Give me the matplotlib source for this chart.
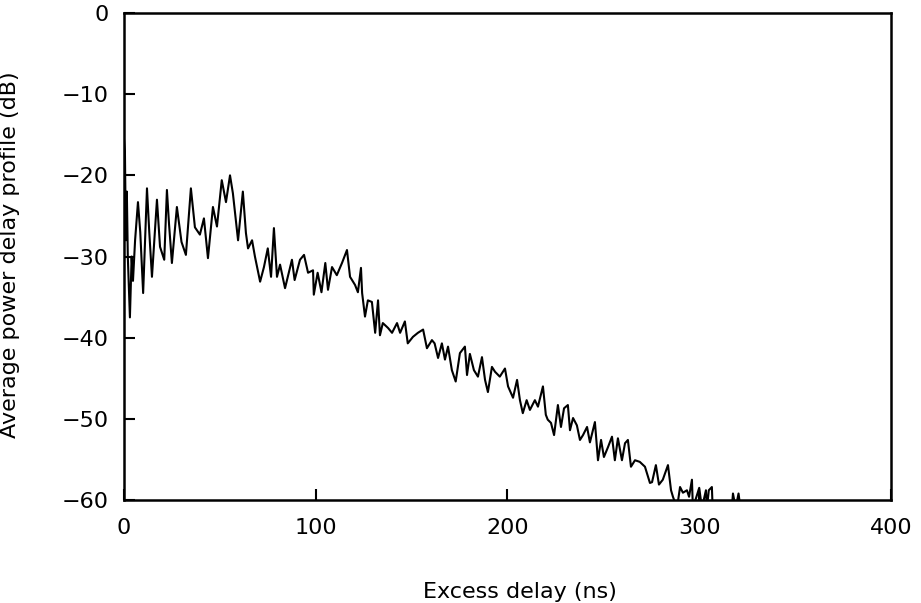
import numpy as np
import matplotlib.pyplot as plt

# excess delay (ns) and average power (dB)
delay = [0.0, 0.5, 1.0, 1.5, 2.0, 3.1, 4.0, 4.7, 5.8, 7.3, 8.5, 10.0, 12.0, 13.2, 14.6,
         17.2, 18.8, 21.0, 22.4, 23.5, 25.0, 27.6, 30.0, 32.3, 34.9, 37.0, 39.6, 41.7,
         43.8, 46.4, 48.5, 51.0, 53.2, 55.3, 56.8, 59.5, 62.0, 63.6, 64.7, 66.8, 68.3,
         71.0, 73.0, 75.0, 76.7, 78.2, 79.8, 81.4, 84.0, 87.6, 89.0, 91.8, 93.9, 96.0,
         98.6, 99.0, 101.0, 103.0, 105.0, 106.4, 108.5, 111.0, 113.7, 116.3, 117.9,
         120.5, 122.0, 123.6, 124.2, 125.7, 127.2, 129.3, 131.0, 132.5, 133.5, 135.0,
         137.7, 139.8, 142.4, 144.0, 146.5, 148.0, 150.7, 153.3, 156.0, 158.0, 160.6,
         162.0, 163.8, 165.8, 167.4, 169.0, 171.0, 173.0, 175.2, 177.8, 178.9, 180.4,
         182.5, 184.6, 186.7, 188.3, 189.8, 191.9, 193.5, 196.0, 198.7, 200.3, 202.9,
         205.0, 206.5, 208.0, 210.0, 211.7, 214.3, 215.9, 218.5, 220.0, 221.0, 222.7,
         224.3, 226.3, 227.9, 229.5, 231.5, 232.6, 234.2, 236.2, 237.8, 239.4, 241.5,
         243.0, 245.6, 247.2, 248.8, 250.3, 252.4, 254.5, 256.0, 257.6, 259.7, 261.3,
         262.8, 264.4, 266.5, 269.0, 271.7, 274.3, 275.4, 277.4, 279.0, 281.0, 283.7,
         285.3, 286.3, 288.4, 290.0, 291.5, 293.6, 294.7, 296.2, 296.7, 298.8, 300.0,
         301.4, 303.5, 304.0, 305.0, 306.6, 307.0, 310.0, 314.0, 317.0, 317.6, 319.0,
         320.5, 321.5]
power = [-15.5, -17.0, -28.0, -22.0, -30.0, -37.5, -30.0, -33.0, -28.0, -23.3, -27.0,
         -34.5, -21.6, -27.0, -32.5, -23.0, -28.8, -30.4, -21.8, -26.0, -30.8, -23.9,
         -28.2, -29.8, -21.6, -26.4, -27.3, -25.3, -30.2, -23.9, -26.3, -20.6, -23.3,
         -20.0, -22.2, -28.0, -22.0, -27.1, -29.0, -28.0, -30.0, -33.1, -31.3, -29.0,
         -32.5, -26.5, -32.5, -31.0, -33.9, -30.4, -32.9, -30.4, -29.8, -32.0, -31.7,
         -34.7, -32.0, -34.4, -30.8, -34.1, -31.3, -32.3, -30.8, -29.2, -32.5, -33.5,
         -34.4, -31.4, -34.5, -37.4, -35.4, -35.6, -39.4, -35.4, -39.7, -38.2, -38.8,
         -39.4, -38.2, -39.4, -38.0, -40.7, -39.9, -39.4, -39.0, -41.3, -40.3, -40.7,
         -42.5, -40.7, -42.7, -41.1, -44.0, -45.4, -41.9, -41.1, -44.6, -42.0, -44.0,
         -44.8, -42.4, -45.2, -46.7, -43.6, -44.2, -44.8, -43.8, -46.0, -47.4, -45.2,
         -47.7, -49.3, -47.7, -48.9, -47.7, -48.5, -46.0, -49.5, -50.1, -50.5, -52.0,
         -48.3, -51.0, -48.7, -48.3, -51.4, -49.9, -50.8, -52.6, -52.0, -51.0, -52.9,
         -50.4, -55.1, -52.6, -54.7, -53.5, -52.2, -55.1, -52.4, -55.1, -53.0, -52.6,
         -55.9, -55.1, -55.3, -55.9, -57.9, -57.8, -55.7, -58.1, -57.5, -55.7, -58.8,
         -59.6, -61.0, -58.4, -59.1, -58.8, -59.6, -57.5, -61.0, -59.4, -58.5, -61.0,
         -58.8, -61.0, -58.8, -58.4, -61.0, -61.0, -61.0, -61.0, -59.2, -61.0, -59.2,
         -61.0]

x_ticks = [0, 100, 200, 300, 400]
y_ticks = [0, -10, -20, -30, -40, -50, -60]

fig = plt.figure(figsize=(9.21, 6.03), dpi=100)
ax = fig.add_axes([0.1346, 0.1708, 0.8328, 0.8076])

ax.plot(delay, power, color='black', lw=1.5)

ax.set_xlim(0, 400)
ax.set_ylim(-60, 0)
ax.set_xticks(x_ticks)
ax.set_yticks(y_ticks)
ax.tick_params(direction='in', length=8, width=1.5, labelsize=16, colors='black')
ax.tick_params(axis='x', pad=13)
ax.tick_params(axis='y', pad=11)
for s in ax.spines.values():
    s.set_linewidth(1.8)

ax.set_xlabel('Excess delay (ns)', fontsize=16)
ax.set_ylabel('Average power delay profile (dB)', fontsize=16)
ax.xaxis.set_label_coords(0.516, -0.168)
ax.yaxis.set_label_coords(-0.1356, 0.503)

fig.savefig('out.png', dpi=100)
